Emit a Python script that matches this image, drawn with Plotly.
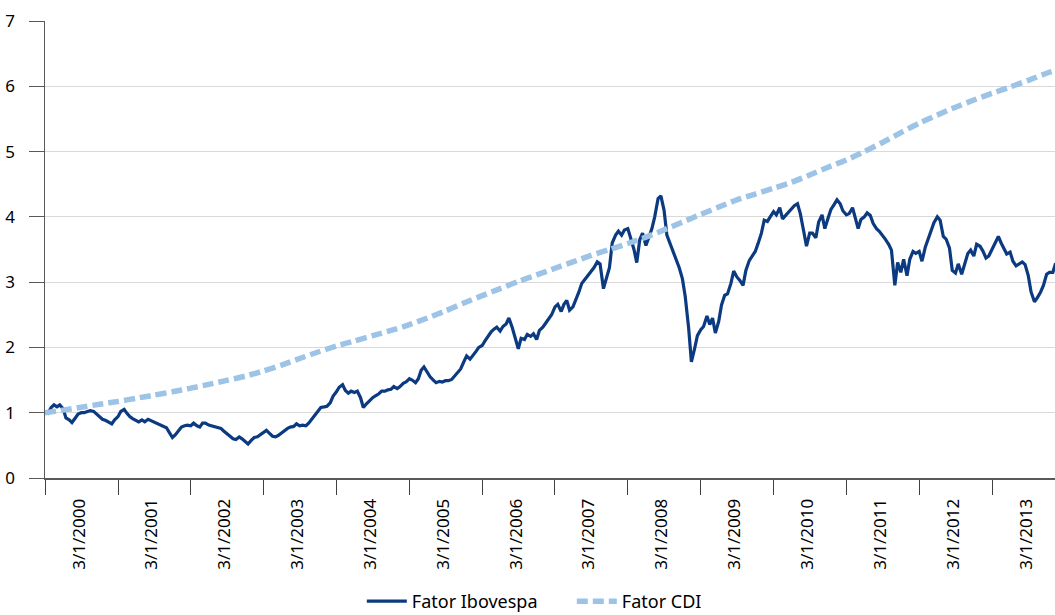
import pandas as pd
import plotly.graph_objects as go

# Fator Ibovespa, semi-monthly readings (1st and 15th of each month)
ibov_dates = pd.date_range("2000-01-01", "2013-11-15", freq="SMS")
ibov_2000 = [1.00, 0.99, 1.08, 1.12, 1.09, 1.12, 1.06, 0.92, 0.89, 0.85, 0.92, 0.98, 1.00, 1.00, 1.02, 1.03, 1.02, 0.98, 0.94, 0.90, 0.88, 0.86, 0.83, 0.89]
ibov_2001 = [0.94, 1.02, 1.05, 0.99, 0.94, 0.91, 0.88, 0.86, 0.89, 0.86, 0.90, 0.88, 0.86, 0.84, 0.82, 0.80, 0.77, 0.70, 0.62, 0.66, 0.73, 0.78, 0.80, 0.81]
ibov_2002 = [0.80, 0.84, 0.80, 0.78, 0.84, 0.84, 0.81, 0.80, 0.79, 0.78, 0.76, 0.72, 0.68, 0.63, 0.60, 0.59, 0.63, 0.60, 0.56, 0.52, 0.58, 0.62, 0.63, 0.66]
ibov_2003 = [0.70, 0.73, 0.68, 0.64, 0.63, 0.65, 0.69, 0.73, 0.76, 0.78, 0.79, 0.83, 0.80, 0.81, 0.80, 0.84, 0.91, 0.97, 1.03, 1.08, 1.09, 1.10, 1.15, 1.25]
ibov_2004 = [1.32, 1.39, 1.43, 1.34, 1.30, 1.33, 1.31, 1.33, 1.23, 1.08, 1.14, 1.19, 1.23, 1.26, 1.29, 1.33, 1.33, 1.35, 1.36, 1.40, 1.37, 1.40, 1.45, 1.47]
ibov_2005 = [1.52, 1.50, 1.46, 1.52, 1.65, 1.70, 1.62, 1.55, 1.50, 1.46, 1.48, 1.47, 1.49, 1.49, 1.51, 1.56, 1.61, 1.67, 1.78, 1.87, 1.82, 1.87, 1.94, 2.00]
ibov_2006 = [2.03, 2.10, 2.19, 2.24, 2.28, 2.31, 2.25, 2.32, 2.36, 2.45, 2.30, 2.14, 1.98, 2.14, 2.12, 2.20, 2.17, 2.21, 2.12, 2.26, 2.31, 2.37, 2.43, 2.50]
ibov_2007 = [2.62, 2.66, 2.55, 2.66, 2.72, 2.57, 2.62, 2.72, 2.85, 2.98, 3.05, 3.10, 3.16, 3.22, 3.31, 3.28, 2.90, 3.07, 3.22, 3.60, 3.72, 3.78, 3.72, 3.80]
ibov_2008 = [3.82, 3.68, 3.50, 3.30, 3.65, 3.75, 3.56, 3.68, 3.82, 4.00, 4.28, 4.32, 4.10, 3.72, 3.58, 3.47, 3.35, 3.22, 3.05, 2.78, 2.30, 1.78, 1.98, 2.18]
ibov_2009 = [2.27, 2.32, 2.48, 2.35, 2.45, 2.22, 2.40, 2.65, 2.80, 2.82, 2.98, 3.17, 3.08, 3.03, 2.95, 3.18, 3.33, 3.40, 3.47, 3.59, 3.75, 3.95, 3.93, 4.00]
ibov_2010 = [4.08, 4.03, 4.14, 3.97, 4.02, 4.07, 4.12, 4.17, 4.20, 4.05, 3.78, 3.55, 3.75, 3.75, 3.68, 3.92, 4.03, 3.82, 3.98, 4.11, 4.19, 4.26, 4.20, 4.09]
ibov_2011 = [4.03, 4.05, 4.14, 4.00, 3.82, 3.96, 4.00, 4.06, 4.02, 3.90, 3.82, 3.78, 3.72, 3.66, 3.58, 3.49, 2.95, 3.30, 3.15, 3.35, 3.10, 3.35, 3.47, 3.44]
ibov_2012 = [3.47, 3.32, 3.54, 3.66, 3.82, 3.91, 4.00, 3.95, 3.70, 3.66, 3.52, 3.18, 3.14, 3.28, 3.12, 3.27, 3.44, 3.49, 3.40, 3.58, 3.55, 3.48, 3.37, 3.40]
ibov_2013 = [3.50, 3.60, 3.70, 3.60, 3.52, 3.43, 3.46, 3.32, 3.25, 3.28, 3.31, 3.27, 3.10, 2.85, 2.70, 2.76, 2.85, 2.95, 3.12, 3.15, 3.15, 3.29]

ibov = (ibov_2000 + ibov_2001 + ibov_2002 + ibov_2003 + ibov_2004 + ibov_2005 + ibov_2006
        + ibov_2007 + ibov_2008 + ibov_2009 + ibov_2010 + ibov_2011 + ibov_2012 + ibov_2013)

# Fator CDI, quarterly readings plus the last point
cdi_dates = list(pd.date_range("2000-01-01", "2013-10-01", freq="QS")) + [pd.Timestamp("2013-11-15")]
cdi = [1.00, 1.04, 1.085, 1.13,
       1.173, 1.22, 1.27, 1.32,
       1.376, 1.435, 1.495, 1.56,
       1.639, 1.73, 1.83, 1.93,
       2.021, 2.10, 2.18, 2.26,
       2.348, 2.45, 2.56, 2.68,
       2.794, 2.90, 3.01, 3.11,
       3.213, 3.31, 3.41, 3.50,
       3.592, 3.69, 3.80, 3.92,
       4.038, 4.15, 4.26, 4.35,
       4.438, 4.53, 4.64, 4.76,
       4.871, 5.00, 5.14, 5.29,
       5.436, 5.56, 5.68, 5.79,
       5.893, 5.99, 6.09, 6.20,
       6.24]

years = list(range(2000, 2014))
tick_labels = [f"3/1/{y}" for y in years]
label_pos = [f"{y}-06-20" for y in years]
year_bounds = [f"{y}-01-01" for y in years]

FONT = "Noto Sans"

fig = go.Figure()
fig.add_trace(go.Scatter(
    x=ibov_dates, y=ibov, mode="lines", name="Fator Ibovespa",
    line=dict(color="#0c3a80", width=3.2),
    hoverinfo="skip",
))
fig.add_trace(go.Scatter(
    x=cdi_dates, y=cdi, mode="lines", name="Fator CDI",
    line=dict(color="#9dc3e6", width=5.5, dash="11px,5px", shape="spline", smoothing=0.6),
    hoverinfo="skip",
))

fig.update_layout(
    width=1055, height=615,
    margin=dict(l=45, r=0, t=21, b=137, autoexpand=False),
    paper_bgcolor="white", plot_bgcolor="white",
    font=dict(family=FONT, size=17, color="#000000"),
    showlegend=True,
    legend=dict(orientation="h", xref="container", yref="container",
                x=0.542, xanchor="center", y=0.022, yanchor="middle",
                font=dict(family=FONT, size=18, color="#000000"),
                itemwidth=40, entrywidth=155, tracegroupgap=0,
                bgcolor="rgba(0,0,0,0)"),
)

fig.update_xaxes(
    type="date", automargin=False,
    range=["2000-01-01", "2013-11-12"],
    tickmode="array", tickvals=label_pos, ticktext=tick_labels,
    tickangle=-90, ticks="", ticklabelstandoff=12,
    tickfont=dict(family=FONT, size=17, color="#000000"),
    showgrid=False, zeroline=False,
    showline=True, linecolor="#595959", linewidth=2,
    minor=dict(tickmode="array", tickvals=year_bounds, ticks="outside",
               ticklen=15, tickwidth=1, tickcolor="#404040", showgrid=False),
)
fig.update_yaxes(
    automargin=False,
    range=[0, 7], dtick=1, tick0=0,
    showgrid=True, gridcolor="#d9d9d9", gridwidth=1,
    zeroline=False,
    showline=True, linecolor="#595959", linewidth=1.5,
    ticks="outside", ticklen=15, tickwidth=1, tickcolor="#595959",
    ticklabelstandoff=10,
    tickfont=dict(family=FONT, size=17, color="#000000"),
)

fig.write_html(
    "out.html",
    config={"displayModeBar": False, "staticPlot": True},
    post_script="document.body.style.margin='0';document.body.style.padding='0';",
)
